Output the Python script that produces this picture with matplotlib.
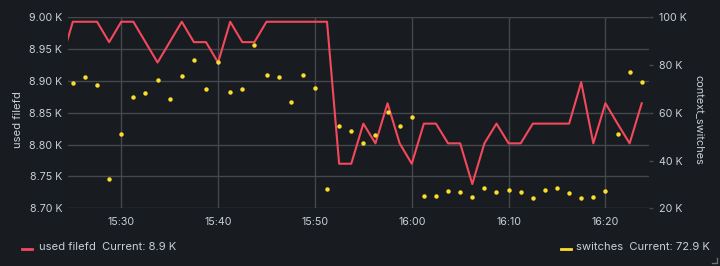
import numpy as np
import pandas as pd
import matplotlib
matplotlib.use('Agg')
import matplotlib.pyplot as plt
import matplotlib.dates as mdates
from matplotlib.lines import Line2D
from matplotlib.ticker import FuncFormatter, FixedLocator

plt.rcParams['font.family'] = ['Inter', 'DejaVu Sans']

# samples every 75 s, first one just left of the visible window
times = pd.date_range('2021-01-01 15:23:45', periods=49, freq='75s')

used_filefd = [8929, 8993, 8993, 8993, 8961, 8993, 8993, 8961, 8929, 8961,
               8993, 8961, 8961, 8929, 8993, 8961, 8961, 8993, 8993, 8993,
               8993, 8993, 8993, 8770, 8770, 8833, 8802, 8865, 8802, 8770,
               8833, 8833, 8802, 8802, 8738, 8802, 8833, 8802, 8802, 8833,
               8833, 8833, 8833, 8898, 8802, 8865, 8833, 8802, 8865]

switches_k = [np.nan, 72.5, 75.0, 71.8, 32.1, 51.1, 66.5, 68.2, 73.7, 65.7,
              75.4, 82.0, 69.8, 81.2, 68.8, 69.8, 88.3, 75.8, 75.1, 64.7,
              75.8, 70.4, 28.2, 54.3, 52.4, 47.5, 50.8, 60.3, 54.3, 58.4,
              25.3, 25.3, 27.4, 26.7, 24.6, 28.4, 26.8, 27.7, 26.8, 24.4,
              27.5, 28.4, 26.4, 24.3, 24.9, 27.2, 51.1, 77.2, 72.9]
switches = [v * 1000 for v in switches_k]

left_ticks = [8700, 8750, 8800, 8850, 8900, 8950, 9000]
right_ticks = [20000, 40000, 60000, 80000, 100000]

BG = '#181b1f'
GRID = '#45474c'
TEXT = '#c7d0d9'
RED = '#f2495c'
YELLOW = '#fade2a'
W, H = 720, 266

fig = plt.figure(figsize=(W / 100, H / 100), dpi=100, facecolor=BG)
ax = fig.add_axes([68 / W, 1 - 208.3 / H, (649 - 68) / W, (208.3 - 17.3) / H])
ax.set_facecolor(BG)
ax2 = ax.twinx()

ax.plot(times, used_filefd, color=RED, linewidth=1.5, zorder=3)
ax2.plot(times, switches, linestyle='none', marker='o', markersize=3.2,
         color=YELLOW, markeredgewidth=0, zorder=4)

ax.set_xlim(pd.Timestamp('2021-01-01 15:24:30'), pd.Timestamp('2021-01-01 16:24:30'))
ax.set_ylim(8700, 9000)
ax2.set_ylim(20000, 100000)

ax.yaxis.set_major_locator(FixedLocator(left_ticks))
ax.yaxis.set_major_formatter(FuncFormatter(lambda v, p: f'{v / 1000:.2f} K'))
ax2.yaxis.set_major_locator(FixedLocator(right_ticks))
ax2.yaxis.set_major_formatter(FuncFormatter(lambda v, p: f'{v / 1000:.0f} K'))
ax.xaxis.set_major_locator(mdates.MinuteLocator(byminute=[0, 10, 20, 30, 40, 50]))
ax.xaxis.set_major_formatter(mdates.DateFormatter('%H:%M'))

ax.grid(True, color=GRID, linewidth=1)
ax.set_axisbelow(True)
for a in (ax, ax2):
    for s in a.spines.values():
        s.set_visible(False)
ax.tick_params(axis='y', length=0, pad=4, labelsize=7.7, labelcolor=TEXT)
ax.tick_params(axis='x', length=0, pad=6.5, labelsize=7.7, labelcolor=TEXT)
ax2.tick_params(axis='y', length=3, width=1, color=GRID, pad=4.5,
                labelsize=7.7, labelcolor=TEXT)

fig.text(18 / W, 1 - 120 / H, 'used filefd', rotation=90, color=TEXT,
         fontsize=8.1, ha='center', va='center')
fig.text(699 / W, 1 - 119.5 / H, 'context_switches', rotation=270, color=TEXT,
         fontsize=7.9, ha='center', va='center')

# legend
fig.add_artist(Line2D([22 / W, 32 / W], [1 - 249 / H] * 2, color=RED, linewidth=2))
fig.text(39.3 / W, 1 - 247.5 / H, 'used filefd  Current: 8.9 K', color=TEXT,
         fontsize=8.1, ha='left', va='center')
fig.add_artist(Line2D([560.7 / W, 571 / W], [1 - 249 / H] * 2, color=YELLOW, linewidth=2))
fig.text(710 / W, 1 - 247.5 / H, 'switches  Current: 72.9 K', color=TEXT,
         fontsize=8.1, ha='right', va='center')

# resize handle in the corner
fig.add_artist(Line2D([712 / W, 717 / W, 717 / W], [1 - 263 / H, 1 - 263 / H, 1 - 258 / H],
                      color='#6e7074', linewidth=1))

fig.savefig('out.png', dpi=100, facecolor=BG)
